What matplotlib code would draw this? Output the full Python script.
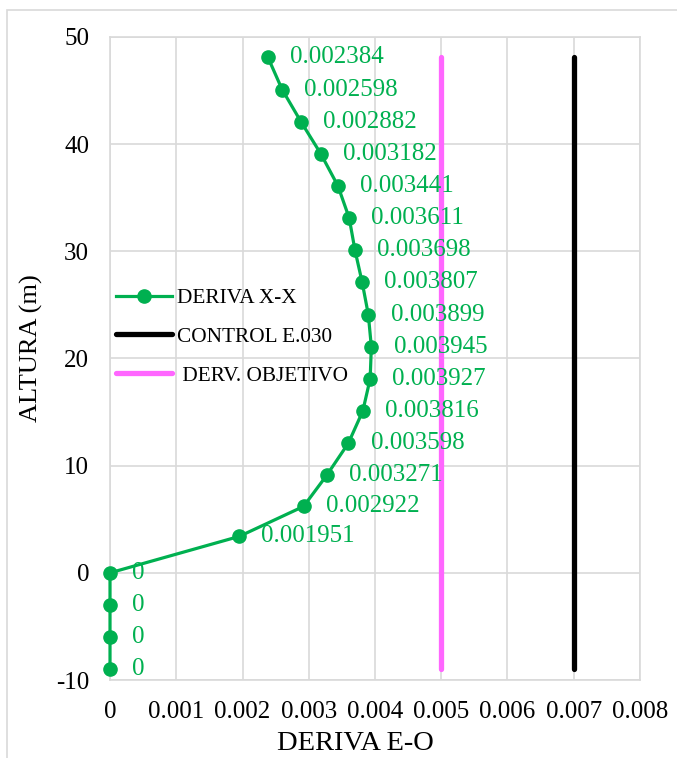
import matplotlib
matplotlib.use("Agg")
import matplotlib.pyplot as plt
from matplotlib.patches import Rectangle

# datos
altura = [-9, -6, -3, 0, 3.4, 6.2, 9.1, 12.1, 15.1, 18.1, 21.1, 24.1, 27.1, 30.1,
          33.1, 36.1, 39.1, 42.1, 45.1, 48.1]
deriva = [0, 0, 0, 0, 0.001951, 0.002922, 0.003271, 0.003598, 0.003816, 0.003927,
          0.003945, 0.003899, 0.003807, 0.003698, 0.003611, 0.003441, 0.003182,
          0.002882, 0.002598, 0.002384]
etiquetas = ["0", "0", "0", "0", "0.001951", "0.002922", "0.003271", "0.003598",
             "0.003816", "0.003927", "0.003945", "0.003899", "0.003807", "0.003698",
             "0.003611", "0.003441", "0.003182", "0.002882", "0.002598", "0.002384"]

control_x = [0.007, 0.007]
control_y = [-9, 48.1]
objetivo_x = [0.005, 0.005]
objetivo_y = [-9, 48.1]

verde = "#00B050"
magenta = "#FF66FF"
gris = "#D9D9D9"

plt.rcParams['font.family'] = ['Liberation Serif', 'DejaVu Serif']
plt.rcParams['axes.unicode_minus'] = False

fig = plt.figure(figsize=(6.77, 7.58), dpi=100)
ax = fig.add_axes([0.1625, 0.1029, 0.7828, 0.8483])

# borde exterior del grafico
fig.patches.append(Rectangle((7 / 677, -0.05), 1.1, (758 - 10) / 758 + 0.05,
                             transform=fig.transFigure, fill=False,
                             edgecolor=gris, linewidth=1.2))

l1, = ax.plot(deriva, altura, color=verde, linewidth=2.3, marker='o',
              markersize=9.5, label='DERIVA X-X', zorder=4, clip_on=False)
l2, = ax.plot(control_x, control_y, color='black', linewidth=3.8,
              solid_capstyle='round', label='CONTROL E.030', zorder=3)
l3, = ax.plot(objetivo_x, objetivo_y, color=magenta, linewidth=3.8,
              solid_capstyle='round', label=' DERV. OBJETIVO', zorder=3)

for xv, yv, txt in zip(deriva, altura, etiquetas):
    ax.annotate(txt, (xv, yv), xytext=(16, 0), textcoords='offset points',
                va='center', ha='left', fontsize=18, color=verde, zorder=5)

ax.set_xlim(0, 0.008)
ax.set_ylim(-10, 50)
ax.set_xticks([0, 0.001, 0.002, 0.003, 0.004, 0.005, 0.006, 0.007, 0.008])
ax.set_xticklabels(["0", "0.001", "0.002", "0.003", "0.004", "0.005", "0.006",
                    "0.007", "0.008"])
ax.set_yticks([-10, 0, 10, 20, 30, 40, 50])
ax.tick_params(length=0, labelsize=18)
ax.tick_params(axis='x', pad=15)
ax.tick_params(axis='y', pad=15)
ax.grid(True, color=gris, linewidth=1.2)
ax.set_axisbelow(True)
for s in ax.spines.values():
    s.set_color(gris)
    s.set_linewidth(1.2)

ax.set_xlabel('DERIVA E-O', fontsize=20.5)
ax.set_ylabel('ALTURA (m)', fontsize=19)
ax.xaxis.set_label_coords((355 - 110) / 530, (680 - 731) / 643)
ax.yaxis.set_label_coords((43 - 110) / 530, (680 - 348) / 643)

ax.legend(handles=[l1, l2, l3], loc='center left',
          bbox_to_anchor=(0.012, (680 - 337) / 643), frameon=False,
          fontsize=15.3, handlelength=2.6, handletextpad=0.25,
          labelspacing=0.88, borderpad=0, borderaxespad=0)

fig.savefig("out.png", dpi=100)
